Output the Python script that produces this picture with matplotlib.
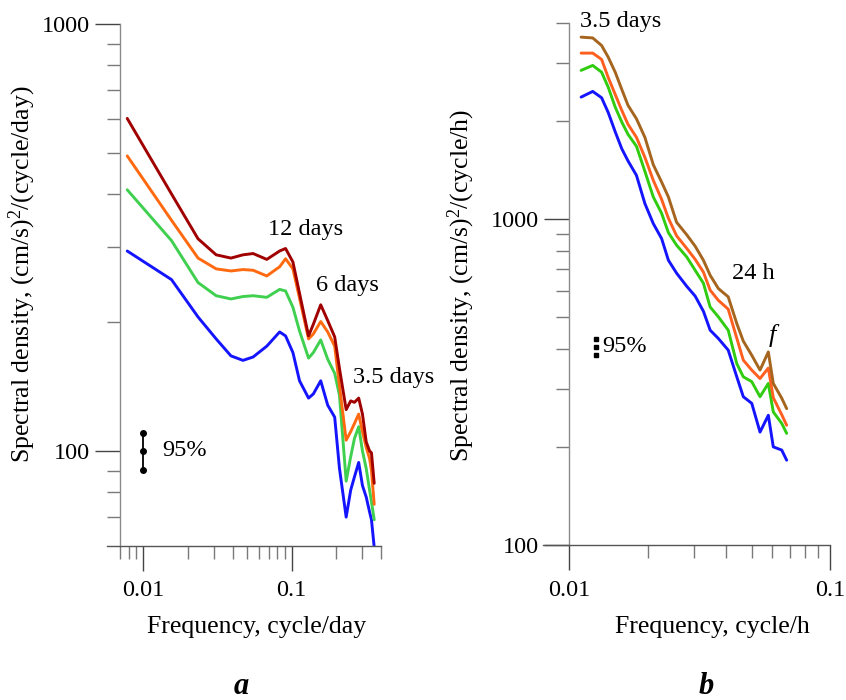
"""Spectral density of currents: (a) daily band, (b) hourly band, log-log."""

import matplotlib
matplotlib.use("Agg")
import matplotlib.pyplot as plt
from matplotlib.ticker import FixedLocator, FixedFormatter, NullFormatter

plt.rcParams["font.family"] = ["Liberation Serif", "DejaVu Serif"]
plt.rcParams["mathtext.fontset"] = "custom"
plt.rcParams["mathtext.rm"] = "Liberation Serif"
plt.rcParams["mathtext.it"] = "Liberation Serif:italic"
plt.rcParams["lines.solid_joinstyle"] = "round"
plt.rcParams["lines.solid_capstyle"] = "round"

# ---- panel a: frequency in cycle/day ----
freq_a = [0.0078, 0.0155, 0.0234, 0.031, 0.039, 0.047, 0.055, 0.068, 0.083,
          0.091, 0.102, 0.113, 0.13, 0.14, 0.157, 0.175, 0.195, 0.21, 0.233,
          0.25, 0.265, 0.283, 0.30, 0.318, 0.335, 0.345, 0.36]
darkred_a = [601, 400, 314, 288, 283, 288, 290, 281, 294, 298, 277, 234, 186,
             198, 220, 202, 185, 156, 125, 131, 130, 133, 122, 105, 100, 99, 84]
orange_a = [491, 347, 283, 267, 264, 266, 265, 257, 270, 282, 267, 228, 183,
            188, 201, 190, 176, 142, 106, 111, 116, 122, 111, 102, 96, 90, 75]
green_a = [409, 311, 248, 231, 227, 230, 231, 229, 239, 237, 217, 191, 165,
           170, 182, 164, 152, 135, 85, 97, 107, 114, 100, 91, 81, 76, 69]
blue_a = [294, 252, 206, 183, 167, 163, 166, 176, 190, 186, 170, 146, 133,
          136, 146, 128, 120, 91, 70, 81, 87, 94, 83, 78, 72, 69, 59.5]

# ---- panel b: frequency in cycle/h ----
freq_b = [0.0111, 0.0123, 0.0133, 0.0141, 0.0150, 0.0159, 0.0168, 0.0181,
          0.0195, 0.0210, 0.0226, 0.0240, 0.0258, 0.0282, 0.0304, 0.0327,
          0.0347, 0.0373, 0.0407, 0.0439, 0.0465, 0.0501, 0.0539, 0.0580,
          0.0606, 0.0653, 0.0682]
brown_b = [3612, 3592, 3406, 3137, 2821, 2497, 2231, 2029, 1780, 1467, 1298,
           1168, 977, 895, 825, 747, 672, 612, 577, 478, 422, 382, 344, 391,
           313, 282, 262]
orange_b = [3227, 3227, 3087, 2719, 2411, 2154, 1951, 1780, 1546, 1314, 1149,
            1005, 888, 813, 752, 687, 605, 563, 529, 431, 369, 344, 324, 349,
            283, 251, 233]
green_b = [2856, 2958, 2821, 2538, 2204, 1983, 1818, 1671, 1400, 1168, 1041,
           908, 831, 765, 696, 635, 537, 501, 456, 360, 328, 317, 285, 313,
           256, 236, 220]
blue_b = [2365, 2462, 2355, 2123, 1852, 1642, 1507, 1361, 1115, 968, 871,
          747, 682, 622, 580, 521, 456, 430, 396, 328, 285, 272, 222, 250,
          200, 195.5, 182]

# 95% confidence bars (lower, centre, upper)
ci_a_freq = 0.01
ci_a = [90.2, 100, 110.4]
ci_b_freq = 0.01266
ci_b = [382, 405, 428]

COLORS_A = ["#a00000", "#ff6a10", "#3fd04f", "#1414ff"]
COLORS_B = ["#a5651e", "#ff5f1f", "#30cc10", "#1414ff"]

TXT = 17.5
LAB = 18.5


def style_axis(ax, xlim, ylim, spine_x, xmajor, xlabels, xminor, ymajor,
               ylabels, yminor):
    ax.set_xscale("log")
    ax.set_yscale("log")
    ax.set_xlim(*xlim)
    ax.set_ylim(*ylim)
    for s in ("top", "right"):
        ax.spines[s].set_visible(False)
    ax.spines["left"].set_position(("data", spine_x))
    ax.spines["left"].set_color("#8a8a8a")
    ax.spines["bottom"].set_color("#555555")
    ax.spines["left"].set_linewidth(1.0)
    ax.spines["bottom"].set_linewidth(1.0)
    ax.xaxis.set_major_locator(FixedLocator(xmajor))
    ax.xaxis.set_major_formatter(FixedFormatter(xlabels))
    ax.xaxis.set_minor_locator(FixedLocator(xminor))
    ax.xaxis.set_minor_formatter(NullFormatter())
    ax.yaxis.set_major_locator(FixedLocator(ymajor))
    ax.yaxis.set_major_formatter(FixedFormatter(ylabels))
    ax.yaxis.set_minor_locator(FixedLocator(yminor))
    ax.yaxis.set_minor_formatter(NullFormatter())
    ax.tick_params(which="major", direction="out", length=18, width=1.0,
                   color="#444444", labelsize=TXT)
    ax.tick_params(axis="x", which="major", pad=7)
    ax.tick_params(axis="y", which="major", pad=4)
    ax.tick_params(which="minor", direction="out", length=9.5, width=1.0,
                   color="#7a7a7a")
    ax.patch.set_visible(False)


fig = plt.figure(figsize=(8.46, 7.0), dpi=100)

# ---------------- panel a ----------------
ax_a = fig.add_axes([107 / 846, 154.3 / 700, 274 / 846, 521.7 / 700])
style_axis(ax_a, (0.0057, 0.4), (60, 1000), 0.007,
           [0.01, 0.1], ["0.01", "0.1"],
           [0.007, 0.008, 0.009, 0.02, 0.03, 0.04, 0.05, 0.06, 0.07, 0.08,
            0.09, 0.2, 0.3, 0.4],
           [100, 1000], ["100", "1000"],
           [70, 80, 90, 200, 300, 400, 500, 600, 700, 800, 900])
for vals, c in zip([blue_a, green_a, orange_a, darkred_a], COLORS_A[::-1]):
    ax_a.plot(freq_a, vals, color=c, lw=2.1)
ax_a.plot([ci_a_freq] * 2, [ci_a[0], ci_a[2]], color="black", lw=1.3)
ax_a.plot([ci_a_freq] * 3, ci_a, "o", color="black", ms=4)
ax_a.text(0.0135, 100, "95%", fontsize=TXT, va="center", ha="left")
ax_a.text(0.1243, 330, "12 days", fontsize=TXT, ha="center", va="center")
ax_a.text(0.238, 244, "6 days", fontsize=TXT, ha="center", va="center")
ax_a.text(0.2584, 149, "3.5 days", fontsize=TXT, ha="left", va="center")

# ---------------- panel b ----------------
ax_b = fig.add_axes([543.3 / 846, 155 / 700, 286.7 / 846, 522.3 / 700])
style_axis(ax_b, (0.00795, 0.1), (100, 4000), 0.01,
           [0.01, 0.1], ["0.01", "0.1"],
           [0.02, 0.03, 0.04, 0.05, 0.06, 0.07, 0.08, 0.09],
           [100, 1000], ["100", "1000"],
           [200, 300, 400, 500, 600, 700, 800, 900, 2000, 3000, 4000])
for vals, c in zip([blue_b, green_b, orange_b, brown_b], COLORS_B[::-1]):
    ax_b.plot(freq_b, vals, color=c, lw=2.1)
ax_b.plot([ci_b_freq] * 3, ci_b, "s", color="black", ms=3.2)
ax_b.text(0.01343, 405, "95%", fontsize=TXT, va="center", ha="left")
ax_b.text(0.01099, 4045, "3.5 days", fontsize=TXT, ha="left", va="center")
ax_b.text(0.04198, 680, "24 h", fontsize=TXT, ha="left", va="center")
ax_b.text(0.0599, 440, "f", fontsize=TXT + 1.5, ha="center", va="center",
          style="italic")

# axis titles and panel letters
fig.text(22 / 846, 1 - 274 / 700,
         r"Spectral density, (cm/s)$^2$/(cycle/day)",
         rotation=90, ha="center", va="center", fontsize=LAB)
fig.text(461 / 846, 1 - 285 / 700,
         r"Spectral density, (cm/s)$^2$/(cycle/h)",
         rotation=90, ha="center", va="center", fontsize=LAB)
fig.text(257 / 846, 1 - 627 / 700, "Frequency, cycle/day",
         ha="center", va="center", fontsize=LAB)
fig.text(712 / 846, 1 - 627 / 700, "Frequency, cycle/h",
         ha="center", va="center", fontsize=LAB)
fig.text(241 / 846, 1 - 686 / 700, "a", ha="center", va="center",
         fontsize=22, fontweight="bold", style="italic")
fig.text(706 / 846, 1 - 686 / 700, "b", ha="center", va="center",
         fontsize=22, fontweight="bold", style="italic")

fig.savefig("out.png", dpi=100)
